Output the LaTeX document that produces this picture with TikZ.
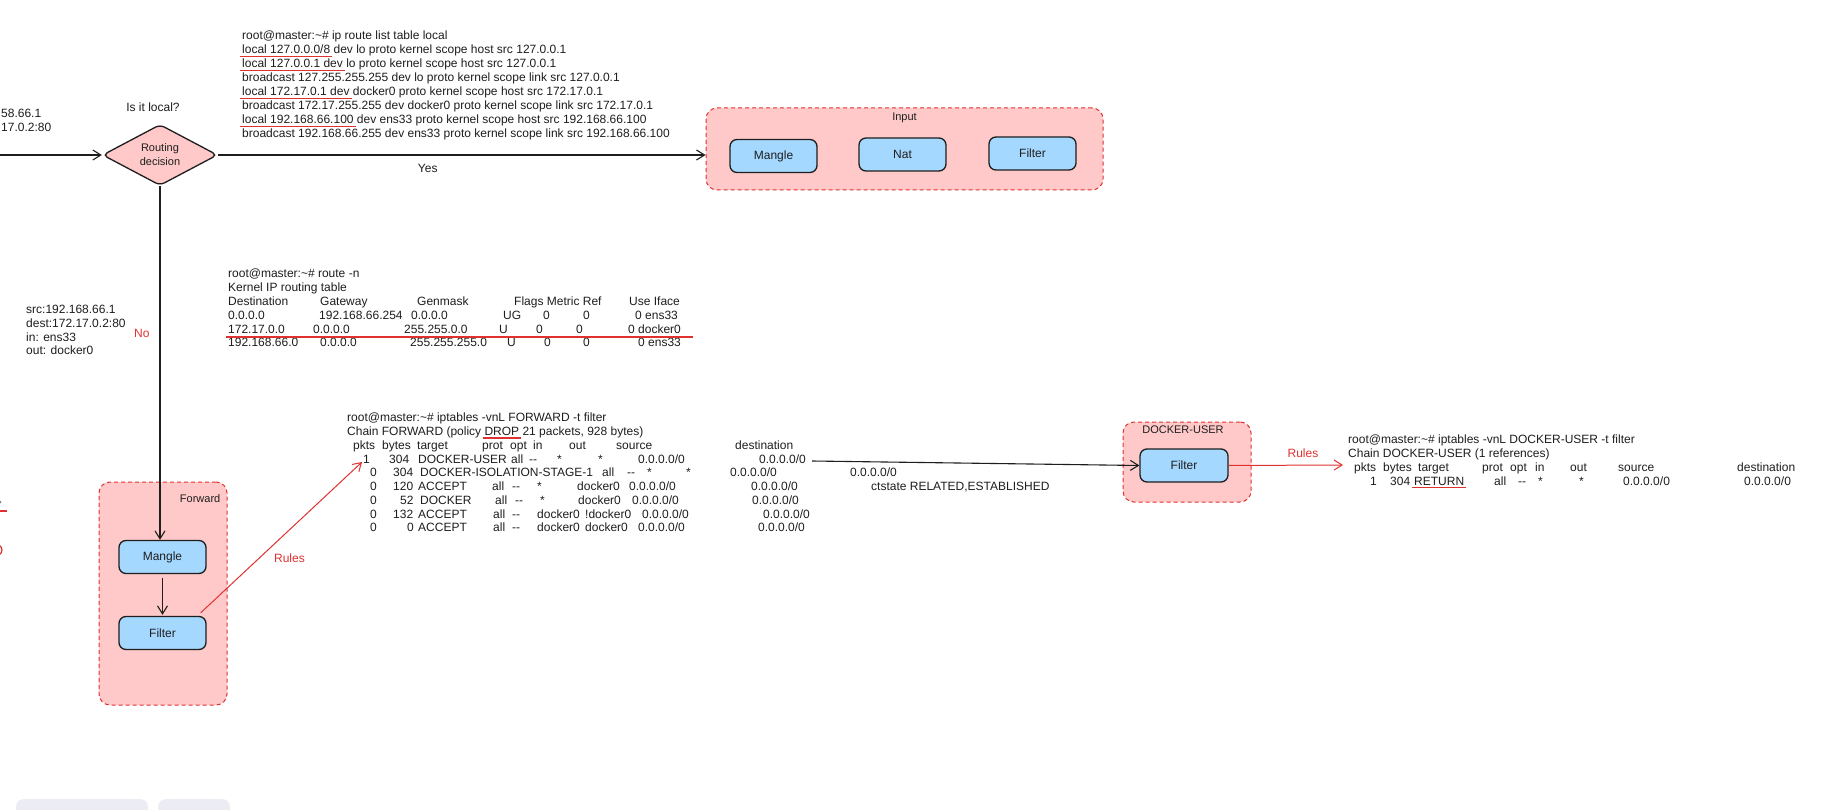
\documentclass[tikz,border=0pt]{standalone}
\usepackage{fontspec}
\setmainfont{Liberation Sans}
\usetikzlibrary{arrows.meta,shapes.geometric,positioning}
\definecolor{chainfill}{HTML}{FFC9C9}
\definecolor{chainline}{HTML}{E03131}
\definecolor{tablefill}{HTML}{A5D8FF}
\definecolor{ink}{HTML}{1E1E1E}
\definecolor{toolbar}{HTML}{ECECF4}
% column cell at a fixed offset, one table row, red underline
\newcommand{\tc}[2]{\makebox[0pt][l]{\hspace*{#1pt}#2}}
\newcommand{\trow}[2][480]{\makebox[#1pt][l]{#2}}
\newsavebox{\ulbox}
\newcommand{\redul}[1]{\sbox{\ulbox}{#1}\rlap{\hspace*{-2pt}\textcolor{chainline}{\rule[-3pt]{\dimexpr\wd\ulbox+4pt\relax}{1.2pt}}}\usebox{\ulbox}}

\begin{document}
\begin{tikzpicture}[x=1pt, y=-1pt,
  every node/.style={font=\fontsize{12}{14}\selectfont, text=ink, inner sep=0pt},
  chainbox/.style={draw=chainline, fill=chainfill, dash pattern=on 4pt off 3pt, line width=1pt, rounded corners=11pt},
  chainlabel/.style={font=\fontsize{11}{13}\selectfont},
  tablebox/.style={draw=ink, fill=tablefill, line width=1.3pt, rounded corners=7pt, minimum width=87pt, minimum height=33pt},
  decision/.style={diamond, aspect=1.9, draw=ink, fill=chainfill, line width=1.3pt, rounded corners=5pt, minimum width=115pt, minimum height=61pt, align=center, font=\fontsize{11}{14}\selectfont},
  flow/.style={draw=ink, line width=1.1pt, -{Straight Barb[length=8pt,width=10pt]}},
  rulearrow/.style={draw=chainline, line width=1pt, -{Straight Barb[length=8pt,width=10pt]}},
  redtext/.style={text=chainline},
  cmdtext/.style={anchor=north west, align=left, font=\fontsize{12}{13.8}\selectfont}]
  \useasboundingbox (0,0) rectangle (1846,810);
  \clip (0,0) rectangle (1846,810);
  \fill[white] (0,0) rectangle (1846,810);

  % chains
  \node[chainbox, minimum width=397pt, minimum height=82pt] (input) at (904.5,149) {};
  \node[chainlabel, below=5pt of input.north] (inputlabel) {Input};
  \node[tablebox] (imangle) at (773.5,156) {Mangle};
  \node[tablebox] (inat) at (902.5,154.5) {Nat};
  \node[tablebox] (ifilter) at (1032.5,153.5) {Filter};

  \node[chainbox, minimum width=128pt, minimum height=223pt] (fwd) at (163,593.5) {};
  \node[chainlabel, below left=13pt and 7pt of fwd.north east] (fwdlabel) {Forward};
  \node[tablebox] (fmangle) at (162.5,557) {Mangle};
  \node[tablebox] (ffilter) at (162.5,633) {Filter};

  \node[chainbox, minimum width=128pt, minimum height=80pt] (du) at (1187,462) {};
  \node[chainlabel, below=4.5pt of du.north, xshift=-4pt] (dulabel) {DOCKER-USER};
  \node[tablebox, minimum width=88pt] (dufilter) at (1184,465.5) {Filter};

  % routing decision
  \node[decision] (route) at (160,155) {Routing\\decision};
  \node (islocal) at (153,107) {Is it local?};
  \coordinate (leftin) at (-5,155);
  \draw[flow] (leftin) -- (route.west);
  \draw[flow] (route.east) -- (route.east -| input.west) node[pos=0.43, below=9pt] (yes) {Yes};
  \draw[flow] (route.south) -- (route.south |- fmangle.north) node[pos=0.416, left=10pt, redtext] (no) {No};
  \draw[flow, shorten <=4pt, shorten >=1pt] (fmangle) -- (ffilter);

  % packet seen at the edge and in the middle
  \node[anchor=west] (partsrc) at (1,113) {58.66.1};
  \node[anchor=west] (partdest) at (1,127) {17.0.2:80};
  \node[cmdtext] (pktinfo) at (26,305) {src:192.168.66.1\\dest:172.17.0.2:80\\in: ens33\\out: docker0};

  % ip route list table local
  \node[cmdtext, font=\fontsize{12}{14}\selectfont] (localtable) at (242,31) {root@master:\textasciitilde\# ip route list table local\\
    \redul{local 127.0.0.0/8} dev lo proto kernel scope host src 127.0.0.1\\
    \redul{local 127.0.0.1 dev} lo proto kernel scope host src 127.0.0.1\\
    broadcast 127.255.255.255 dev lo proto kernel scope link src 127.0.0.1\\
    \redul{local 172.17.0.1 dev} docker0 proto kernel scope host src 172.17.0.1\\
    broadcast 172.17.255.255 dev docker0 proto kernel scope link src 172.17.0.1\\
    \redul{local 192.168.66.100} dev ens33 proto kernel scope host src 192.168.66.100\\
    broadcast 192.168.66.255 dev ens33 proto kernel scope link src 192.168.66.100};

  % route -n
  \node[cmdtext] (routetable) at (228,269) {root@master:\textasciitilde\# route -n\\
    Kernel IP routing table\\
    \trow[470]{\tc{0}{Destination}\tc{92}{Gateway}\tc{189}{Genmask}\tc{286}{Flags Metric Ref}\tc{401}{Use Iface}}\\
    \trow[470]{\tc{0}{0.0.0.0}\tc{91}{192.168.66.254}\tc{183}{0.0.0.0}\tc{275}{UG}\tc{315}{0}\tc{355}{0}\tc{407}{0 ens33}}\\
    \trow[470]{\tc{0}{172.17.0.0}\tc{85}{0.0.0.0}\tc{176}{255.255.0.0}\tc{271}{U}\tc{308}{0}\tc{348}{0}\tc{400}{0 docker0}}\\
    \trow[470]{\tc{0}{192.168.66.0}\tc{92}{0.0.0.0}\tc{182}{255.255.255.0}\tc{279}{U}\tc{316}{0}\tc{355}{0}\tc{410}{0 ens33}}};
  \draw[chainline, line width=1.2pt] (226,337) -- (693,337);

  % iptables FORWARD
  \node[cmdtext, font=\fontsize{12}{13.75}\selectfont] (fwdtable) at (347,413) {root@master:\textasciitilde\# iptables -vnL FORWARD -t filter\\
    Chain FORWARD (policy \redul{DROP} 21 packets, 928 bytes)\\
    \trow[700]{\tc{6}{pkts}\tc{35}{bytes}\tc{70}{target}\tc{135}{prot}\tc{163}{opt}\tc{186}{in}\tc{222}{out}\tc{269}{source}\tc{388}{destination}}\\
    \trow[700]{\tc{16}{1}\tc{42}{304}\tc{71}{DOCKER-USER}\tc{164}{all}\tc{182}{-{}-}\tc{210}{*}\tc{251}{*}\tc{291}{0.0.0.0/0}\tc{412}{0.0.0.0/0}}\\
    \trow[700]{\tc{23}{0}\tc{46}{304}\tc{73}{DOCKER-ISOLATION-STAGE-1}\tc{255}{all}\tc{280}{-{}-}\tc{300}{*}\tc{339}{*}\tc{383}{0.0.0.0/0}\tc{503}{0.0.0.0/0}}\\
    \trow[700]{\tc{23}{0}\tc{46}{120}\tc{71}{ACCEPT}\tc{145}{all}\tc{165}{-{}-}\tc{190}{*}\tc{230}{docker0}\tc{282}{0.0.0.0/0}\tc{404}{0.0.0.0/0}\tc{524}{ctstate RELATED,ESTABLISHED}}\\
    \trow[700]{\tc{23}{0}\tc{53}{52}\tc{73}{DOCKER}\tc{148}{all}\tc{168}{-{}-}\tc{193}{*}\tc{231}{docker0}\tc{285}{0.0.0.0/0}\tc{405}{0.0.0.0/0}}\\
    \trow[700]{\tc{23}{0}\tc{46}{132}\tc{71}{ACCEPT}\tc{146}{all}\tc{165}{-{}-}\tc{190}{docker0}\tc{238}{!docker0}\tc{295}{0.0.0.0/0}\tc{416}{0.0.0.0/0}}\\
    \trow[700]{\tc{23}{0}\tc{60}{0}\tc{71}{ACCEPT}\tc{146}{all}\tc{165}{-{}-}\tc{190}{docker0}\tc{238}{docker0}\tc{291}{0.0.0.0/0}\tc{411}{0.0.0.0/0}}};
  \coordinate (fwdhead) at (362,462);
  \draw[rulearrow] ([xshift=-6pt, yshift=3pt]ffilter.north east) -- (fwdhead);
  \node[redtext] (fwdrules) at (289.5,558) {Rules};
  \coordinate (fwdout) at (812,461);
  \draw[flow] (fwdout) -- (dufilter.west);

  % iptables DOCKER-USER
  \coordinate (durulehead) at (1343,465);
  \draw[rulearrow] (dufilter.east) -- (durulehead) node[pos=0.65, above=7pt, redtext] (durules) {Rules};
  \node[cmdtext] (dutable) at (1348,435) {root@master:\textasciitilde\# iptables -vnL DOCKER-USER -t filter\\
    Chain DOCKER-USER (1 references)\\
    \trow[460]{\tc{6}{pkts}\tc{35}{bytes}\tc{70}{target}\tc{134}{prot}\tc{162}{opt}\tc{187}{in}\tc{222}{out}\tc{270}{source}\tc{389}{destination}}\\
    \trow[460]{\tc{22}{1}\tc{42}{304}\tc{66}{\redul{RETURN}}\tc{146}{all}\tc{170}{-{}-}\tc{190}{*}\tc{231}{*}\tc{275}{0.0.0.0/0}\tc{396}{0.0.0.0/0}}};

  % cut-off bits at the edges
  \fill[ink!55] (0,502) circle (1.5pt);
  \draw[chainline, line width=1.2pt] (-20,511) -- (7,511);
  \draw[chainline, line width=1.2pt] (-8,550) ellipse (10pt and 7pt);
  \fill[toolbar, rounded corners=8pt] (16,799) rectangle (148,830);
  \fill[toolbar, rounded corners=8pt] (158,799) rectangle (230,830);
\end{tikzpicture}
\end{document}
